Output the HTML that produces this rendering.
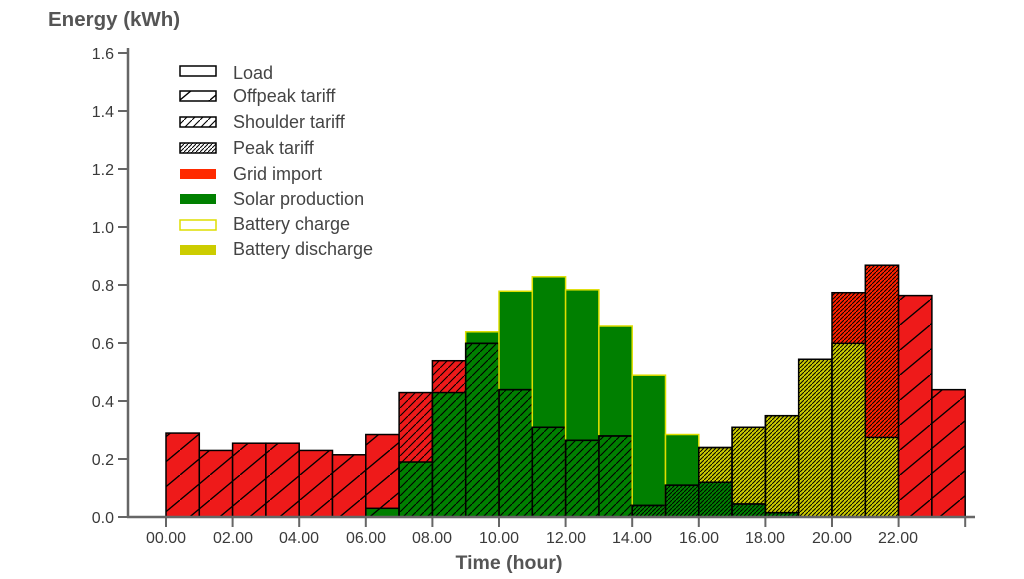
<!DOCTYPE html>
<html><head><meta charset="utf-8"><style>
html,body{margin:0;padding:0;background:#fff;}
svg{display:block;font-family:"Liberation Sans",sans-serif;}
</style></head><body>
<svg id="c" width="1024" height="579" viewBox="0 0 1024 579" xmlns="http://www.w3.org/2000/svg">
<defs>
<pattern id="off" patternUnits="userSpaceOnUse" width="30" height="25">
<line x1="-2" y1="26.7" x2="32" y2="-1.7" stroke="#000" stroke-width="1.3"/>
</pattern>
<pattern id="sh" patternUnits="userSpaceOnUse" width="8" height="8">
<line x1="-1" y1="9" x2="9" y2="-1" stroke="#000" stroke-width="1.1"/>
</pattern>
<pattern id="pk" patternUnits="userSpaceOnUse" width="4" height="4">
<line x1="-1" y1="5" x2="5" y2="-1" stroke="#000" stroke-width="1"/>
</pattern>
</defs>
<g id="bars"></g>
<g stroke="#666" stroke-width="2.5" fill="none">
<line x1="128" y1="48" x2="128" y2="518"/>
<line x1="127" y1="517" x2="975" y2="517"/>
</g>
<g stroke="#666" stroke-width="2">
<line x1="118" y1="53" x2="128" y2="53"/><line x1="118" y1="111" x2="128" y2="111"/>
<line x1="118" y1="169" x2="128" y2="169"/><line x1="118" y1="227" x2="128" y2="227"/>
<line x1="118" y1="285" x2="128" y2="285"/><line x1="118" y1="343" x2="128" y2="343"/>
<line x1="118" y1="401" x2="128" y2="401"/><line x1="118" y1="459" x2="128" y2="459"/>
<line x1="118" y1="517" x2="128" y2="517"/>
</g>
<g id="xt" stroke="#666" stroke-width="2"></g>
<g fill="#3a3a3a" font-size="16" text-anchor="end">
<text x="114" y="59">1.6</text><text x="114" y="117">1.4</text><text x="114" y="175">1.2</text>
<text x="114" y="233">1.0</text><text x="114" y="291">0.8</text><text x="114" y="349">0.6</text>
<text x="114" y="407">0.4</text><text x="114" y="465">0.2</text><text x="114" y="523">0.0</text>
</g>
<g fill="#3a3a3a" font-size="16" text-anchor="middle">
<text x="166" y="543">00.00</text><text x="233" y="543">02.00</text><text x="299" y="543">04.00</text>
<text x="366" y="543">06.00</text><text x="432" y="543">08.00</text><text x="499" y="543">10.00</text>
<text x="566" y="543">12.00</text><text x="632" y="543">14.00</text><text x="699" y="543">16.00</text>
<text x="765" y="543">18.00</text><text x="832" y="543">20.00</text><text x="898" y="543">22.00</text>
</g>
<text x="48" y="26" fill="#555" font-size="20.5" font-weight="bold">Energy (kWh)</text>
<text x="509" y="569" fill="#555" font-size="19.5" font-weight="bold" text-anchor="middle">Time (hour)</text>
<g>
<rect x="180" y="66" width="36" height="10" fill="#fff" stroke="#000" stroke-width="1.5"/>
<rect x="180" y="91" width="36" height="10" fill="url(#off)" stroke="#000" stroke-width="1.5"/>
<rect x="180" y="117" width="36" height="10" fill="url(#sh)" stroke="#000" stroke-width="1.5"/>
<rect x="180" y="143" width="36" height="10" fill="url(#pk)" stroke="#000" stroke-width="1.5"/>
<rect x="180" y="169" width="36" height="10" fill="#ff2a00"/>
<rect x="180" y="194" width="36" height="10" fill="#008000"/>
<rect x="180" y="220" width="36" height="10" fill="#fff" stroke="#dddd00" stroke-width="1.5"/>
<rect x="180" y="245" width="36" height="10" fill="#cccc00"/>
</g>
<g fill="#444" font-size="18">
<text x="233" y="79">Load</text><text x="233" y="102">Offpeak tariff</text>
<text x="233" y="128">Shoulder tariff</text><text x="233" y="154">Peak  tariff</text>
<text x="233" y="180">Grid import</text><text x="233" y="205">Solar production</text>
<text x="233" y="230">Battery charge</text><text x="233" y="255">Battery discharge</text>
</g>
<script>
(function(){
var NS="http://www.w3.org/2000/svg";
function y(v){return 517-289.4*v;}
function X(h){return 166+33.3*h;}
var g=document.getElementById('bars');
function r(h,v0,v1,fill,stroke,sw){
 var e=document.createElementNS(NS,'rect');
 e.setAttribute('x',X(h));e.setAttribute('width',33.3);
 e.setAttribute('y',y(v1));e.setAttribute('height',y(v0)-y(v1));
 e.setAttribute('fill',fill);e.setAttribute('stroke',stroke||'none');
 e.setAttribute('stroke-width',sw||1.5);g.appendChild(e);}
var R='#ee1a1a',R2='#ff2200',G='#007f00',Y='#cccc00',YO='#dede00';
var hat=[];for(var i=0;i<24;i++)hat[i]=(i<7||i>=22)?'off':(i<14?'sh':'pk');
var load=[0.29,0.23,0.255,0.255,0.23,0.215,0.285,0.43,0.54,0.60,0.44,0.31,0.265,0.28,0.04,0.11,0.24,0.31,0.35,0.545,0.775,0.87,0.765,0.44];
var green=[0,0,0,0,0,0,0.03,0.19,0.43,0.60,0.44,0.31,0.265,0.28,0.04,0.11,0.12,0.045,0.015,0,0,0,0,0];
var yel=[0,0,0,0,0,0,0,0,0,0,0,0,0,0,0,0,0.24,0.31,0.35,0.545,0.60,0.275,0,0];
var solar={9:0.64,10:0.78,11:0.83,12:0.785,13:0.66,14:0.49,15:0.285};
for(var h=0;h<24;h++){
 if(solar[h]) r(h,0,solar[h],G,YO,1.5);
 var rc=(h==20||h==21)?R2:R;
 if(load[h]>Math.max(green[h],yel[h])) r(h,Math.max(green[h],yel[h]),load[h],rc);
 if(yel[h]>0) r(h,green[h],yel[h],Y);
 if(green[h]>0) r(h,0,green[h],G);
 r(h,0,load[h],'url(#'+hat[h]+')','none');
 if(green[h]>0) r(h,0,green[h],'none','#000',1.5);
 if(yel[h]>0) r(h,green[h],yel[h],'none','#000',1.5);
 r(h,0,load[h],'none','#000',1.5);
}
var xt=document.getElementById('xt');
for(var k=0;k<=12;k++){var l=document.createElementNS(NS,'line');var xx=X(2*k);
 l.setAttribute('x1',xx);l.setAttribute('x2',xx);l.setAttribute('y1',517);l.setAttribute('y2',527);xt.appendChild(l);}
})();
</script>
</svg>
</body></html>
